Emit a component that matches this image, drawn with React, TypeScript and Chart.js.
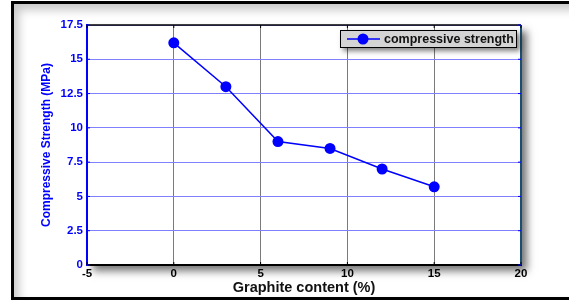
import React, { useEffect, useRef } from "react";
import { Chart, registerables } from "chart.js";

Chart.register(...registerables);

const graphiteContent = [0, 3, 6, 9, 12, 15];
const compressiveStrength = [16.2, 13.0, 9.0, 8.5, 7.0, 5.7];
const seriesLabel = "compressive strength";
const xTitle = "Graphite content (%)";
const yTitle = "Compressive Strength (MPa)";

const FONT = "'Liberation Sans', Arial, sans-serif";

const framePlugin = {
  id: "framePlugin",
  beforeDraw(chart: any) {
    const { ctx, chartArea: a } = chart;
    ctx.save();
    ctx.shadowColor = "rgba(0,0,0,0.55)";
    ctx.shadowBlur = 8;
    ctx.shadowOffsetX = 6;
    ctx.shadowOffsetY = 6;
    ctx.fillStyle = "#ffffff";
    ctx.fillRect(a.left, a.top, a.right - a.left, a.bottom - a.top);
    ctx.restore();
  },
  afterDraw(chart: any) {
    const { ctx, chartArea: a, scales } = chart;
    ctx.save();
    ctx.strokeStyle = "#000000";
    ctx.lineWidth = 1.5;
    ctx.beginPath();
    ctx.moveTo(a.left, a.top);
    ctx.lineTo(a.right, a.top);
    ctx.stroke();
    ctx.strokeStyle = "#1b4f72";
    ctx.lineWidth = 2;
    ctx.beginPath();
    ctx.moveTo(a.right, a.top);
    ctx.lineTo(a.right, a.bottom);
    ctx.stroke();
    ctx.lineWidth = 1;
    ctx.strokeStyle = "#000000";
    scales.x.ticks.forEach((t: any) => {
      const px = scales.x.getPixelForValue(t.value);
      ctx.beginPath();
      ctx.moveTo(px, a.bottom);
      ctx.lineTo(px, a.bottom - 3);
      ctx.moveTo(px, a.top);
      ctx.lineTo(px, a.top + 3);
      ctx.stroke();
    });
    ctx.strokeStyle = "#0000ff";
    scales.y.ticks.forEach((t: any) => {
      const py = scales.y.getPixelForValue(t.value);
      ctx.beginPath();
      ctx.moveTo(a.left, py);
      ctx.lineTo(a.left + 3, py);
      ctx.moveTo(a.right, py);
      ctx.lineTo(a.right - 3, py);
      ctx.stroke();
    });
    const bw = 177;
    const bh = 18;
    const bx = a.right - 4 - bw;
    const by = a.top + 5;
    ctx.save();
    ctx.shadowColor = "rgba(0,0,0,0.5)";
    ctx.shadowBlur = 5;
    ctx.shadowOffsetX = 3;
    ctx.shadowOffsetY = 3;
    ctx.fillStyle = "#d4d4d4";
    ctx.fillRect(bx, by, bw, bh);
    ctx.restore();
    ctx.strokeStyle = "#000000";
    ctx.lineWidth = 1;
    ctx.strokeRect(bx + 0.5, by + 0.5, bw - 1, bh - 1);
    const ly = by + bh / 2;
    ctx.strokeStyle = "#0000ff";
    ctx.lineWidth = 1.5;
    ctx.beginPath();
    ctx.moveTo(bx + 7, ly);
    ctx.lineTo(bx + 40, ly);
    ctx.stroke();
    ctx.fillStyle = "#0000ff";
    ctx.beginPath();
    ctx.arc(bx + 23, ly, 5.5, 0, Math.PI * 2);
    ctx.fill();
    ctx.fillStyle = "#111111";
    ctx.font = `bold 12.5px ${FONT}`;
    ctx.textBaseline = "middle";
    ctx.textAlign = "left";
    ctx.fillText(seriesLabel, bx + 44, ly + 0.5);
    ctx.restore();
  },
};

export default function App() {
  const ref = useRef<HTMLCanvasElement | null>(null);
  useEffect(() => {
    if (!ref.current) return;
    const chart = new Chart(ref.current, {
      type: "line",
      data: {
        datasets: [
          {
            label: seriesLabel,
            data: graphiteContent.map((x, i) => ({ x, y: compressiveStrength[i] })),
            borderColor: "#0000ff",
            backgroundColor: "#0000ff",
            borderWidth: 1.5,
            pointRadius: 5.5,
            pointBackgroundColor: "#0000ff",
            pointBorderColor: "#0000ff",
            pointBorderWidth: 0,
            tension: 0,
          },
        ],
      },
      options: {
        animation: false,
        responsive: false,
        maintainAspectRatio: false,
        layout: { padding: { left: 37, right: 48, top: 25, bottom: 5 } },
        plugins: { legend: { display: false }, tooltip: { enabled: false } },
        scales: {
          x: {
            type: "linear",
            min: -5,
            max: 20,
            afterFit: (s: any) => {
              s.height = 34;
            },
            ticks: {
              stepSize: 5,
              color: "#000000",
              font: { family: FONT, size: 11.5, weight: "bold" },
              padding: 2,
            },
            grid: { color: "#7a7a7a", lineWidth: 1, drawTicks: false },
            border: { color: "#000000", width: 2 },
            title: {
              display: true,
              text: xTitle,
              color: "#111111",
              font: { family: FONT, size: 14.5, weight: "bold" },
              padding: { top: 0, bottom: 2 },
            },
          },
          y: {
            type: "linear",
            min: 0,
            max: 17.5,
            afterFit: (s: any) => {
              s.width = 50;
            },
            ticks: {
              stepSize: 2.5,
              color: "#0000ff",
              font: { family: FONT, size: 11.5, weight: "bold" },
              padding: 4,
            },
            grid: { color: "#8080ff", lineWidth: 1, drawTicks: false },
            border: { color: "#0000ff", width: 2 },
            title: {
              display: true,
              text: yTitle,
              color: "#0000ff",
              font: { family: FONT, size: 12, weight: "bold" },
              padding: { top: 2, bottom: 0 },
            },
          },
        },
      },
      plugins: [framePlugin],
    });
    return () => chart.destroy();
  }, []);

  return (
    <div style={{ position: "fixed", left: 0, top: 0, width: 569, height: 304, overflow: "hidden", background: "#ffffff" }}>
      <div
        style={{
          position: "absolute",
          left: 11,
          top: 1,
          width: 620,
          height: 293,
          border: "3px solid #000000",
          boxShadow: "inset 5px 6px 10px rgba(0,0,0,0.22)",
        }}
      />
      <canvas ref={ref} width={569} height={304} style={{ position: "absolute", left: 0, top: 0, width: 569, height: 304 }} />
    </div>
  );
}
